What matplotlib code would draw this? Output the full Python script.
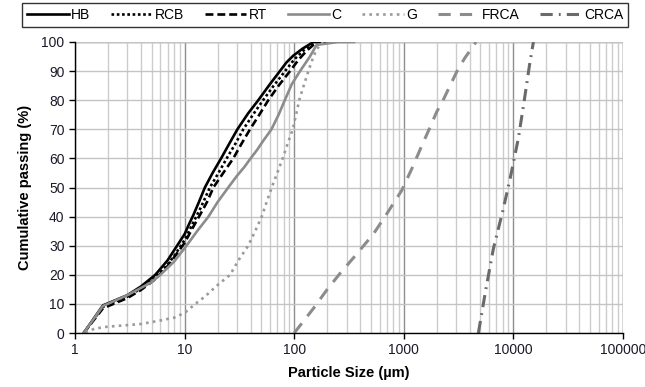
import numpy as np
import matplotlib
matplotlib.use("Agg")
import matplotlib.pyplot as plt
from matplotlib.ticker import FixedLocator, LogLocator, NullFormatter

plt.rcParams['font.family'] = ['Liberation Sans', 'DejaVu Sans']

# particle size (um) vs cumulative passing (%)
hb_x = [1.2, 1.8, 3, 4, 5.4, 7, 8.2, 10, 11, 12, 13.5, 15.3, 18, 21.5, 25.5, 30.3, 38, 47, 60, 74, 85, 98, 120, 150, 200]
hb_y = [0, 9.5, 13, 16, 20, 25, 29, 34, 37.5, 40.5, 45, 50, 55, 60, 65, 70, 75.5, 80, 85.5, 90, 93, 95.3, 97.8, 100, 100]

rcb_x = [1.2, 1.8, 3, 4, 5.4, 7, 8.2, 10, 12, 14, 17, 20, 24.2, 29, 34.3, 42, 52, 65, 82.5, 100, 125, 155, 200]
rcb_y = [0, 9, 12.5, 15.3, 19, 23.5, 27, 32, 38, 43, 50, 54.5, 60, 65, 70, 75, 80, 85, 90, 94, 97.5, 100, 100]

rt_x = [1.2, 1.8, 3, 4, 5.4, 7, 8.2, 10, 12, 14, 16, 18.3, 22.5, 27.8, 33, 39.5, 48, 58, 72, 91.5, 110, 130, 160, 200]
rt_y = [0, 8.5, 12, 14.8, 18.5, 23, 26.5, 31, 36.5, 41, 45, 50, 55, 60, 65, 70, 75, 80, 85, 90, 94, 97, 100, 100]

c_x = [1.2, 1.8, 3, 4, 5, 6, 8, 10.4, 13, 16.5, 20, 25, 30, 35, 40, 46, 52, 62, 72, 82, 95, 113, 139, 160, 250, 350]
c_y = [0, 9.3, 13, 15.5, 17.5, 20, 24.5, 30, 35, 40, 45, 50, 54, 57, 60, 63, 66, 70, 75, 80, 85.5, 90, 95, 99, 100, 100]

g_x = [1.25, 1.5, 2, 3, 4, 6, 8.3, 10.3, 12.5, 15.3, 20, 26, 31, 38, 44, 50.5, 56, 62.3, 70, 78.5, 87, 96.8, 104, 111, 122, 134.6, 148, 160, 183]
g_y = [0, 1.5, 2.2, 2.7, 3.1, 4.3, 5.4, 7.3, 10, 12.5, 16.5, 20, 25, 30, 35, 40, 45, 50, 55, 60, 65, 70, 75, 80, 85, 90, 94.5, 97.5, 100]

frca_x = [100, 150, 200, 262, 350, 527, 700, 957, 1200, 1406, 1700, 1995, 2280, 2640, 3057, 3600, 4550]
frca_y = [0, 8.5, 15, 20.5, 26, 34, 41, 49, 57, 63, 70, 76, 80, 85, 90, 94.5, 100]

crca_x = [4785, 5600, 6560, 8000, 9310, 11100, 12500, 14000, 15200]
crca_y = [0, 15, 29, 42, 53, 67, 79.5, 92, 100]

fig = plt.figure(figsize=(6.45, 3.87), dpi=100)
ax = fig.add_axes([0.1163, 0.1395, 0.8497, 0.752])

ax.plot(hb_x, hb_y, color='black', lw=1.9, label='HB')
ax.plot(rcb_x, rcb_y, color='black', lw=1.9, ls=(0, (1, 1)), label='RCB')
ax.plot(rt_x, rt_y, color='black', lw=1.9, ls=(0, (3, 1.5)), label='RT')
ax.plot(c_x, c_y, color='#8c8c8c', lw=1.9, label='C')
ax.plot(g_x, g_y, color='#9a9a9a', lw=1.9, ls=(0, (1, 1.6)), label='G')
ax.plot(frca_x, frca_y, color='#8c8c8c', lw=2.2, ls=(0, (4, 3)), label='FRCA')
ax.plot(crca_x, crca_y, color='#6a6a6a', lw=2.2, ls=(0, (4, 2, 0.6, 2)), label='CRCA')

ax.set_xscale('log')
ax.set_xlim(1, 100000)
ax.set_ylim(0, 100)
ax.set_yticks(np.arange(0, 101, 10))
ax.xaxis.set_major_locator(FixedLocator([1, 10, 100, 1000, 10000, 100000]))
ax.set_xticklabels(['1', '10', '100', '1000', '10000', '100000'])
ax.xaxis.set_minor_locator(LogLocator(base=10, subs=np.arange(2, 10), numticks=20))
ax.xaxis.set_minor_formatter(NullFormatter())

ax.grid(True, which='major', axis='x', color='#8e8e8e', lw=1.0)
ax.grid(True, which='minor', axis='x', color='#cccccc', lw=1.0)
ax.grid(True, which='major', axis='y', color='#c4c4c4', lw=1.0)
ax.set_axisbelow(True)

for s in ['top', 'right']:
    ax.spines[s].set_visible(False)
for s in ['left', 'bottom']:
    ax.spines[s].set_color('black')
    ax.spines[s].set_linewidth(1.0)
ax.axhline(100, color='#7a7a7a', lw=1.0, zorder=0.5)
ax.axvline(100000, color='#8e8e8e', lw=1.0, zorder=0.5)

ax.tick_params(axis='both', which='major', direction='out', length=4, width=1,
               labelsize=10, colors='black', labelcolor='#1a1a2a')
ax.tick_params(axis='x', which='minor', length=0)

ax.set_xlabel('Particle Size (\u00b5m)', fontsize=10.5, fontweight='bold', labelpad=6)
ax.set_ylabel('Cumulative passing (%)', fontsize=10.5, fontweight='bold', labelpad=7)

leg = fig.legend(loc='upper center', bbox_to_anchor=(0.504, 1.0), ncol=7,
                 fontsize=10, frameon=True, fancybox=False, edgecolor='black',
                 handlelength=3.0, columnspacing=1.5, handletextpad=0.15,
                 borderpad=0.35, borderaxespad=0.2)
leg.get_frame().set_linewidth(1.0)

fig.savefig('out.png', dpi=100)
